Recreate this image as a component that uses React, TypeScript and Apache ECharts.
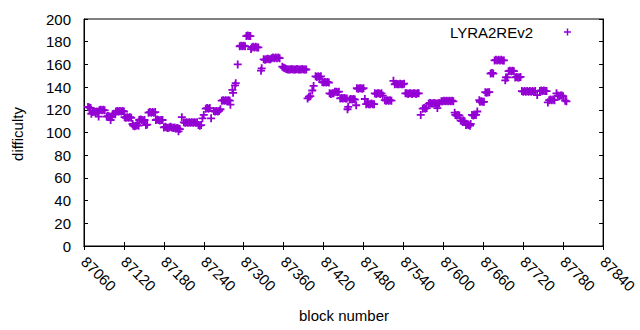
import React, { useEffect, useRef } from "react";
import * as echarts from "echarts";

// Tick settings
const xMin = 87060;
const xMax = 87840;
const xStep = 60;
const yMin = 0;
const yMax = 200;
const yStep = 20;
const seriesName = "LYRA2REv2";

// Segment 1: blocks 87066 - 87240
const blocksA = [
  87066, 87068, 87070, 87071, 87073, 87075, 87077, 87079, 87081, 87082,
  87083, 87085, 87087, 87089, 87091, 87094, 87096, 87098, 87100, 87102,
  87100, 87103, 87105, 87107, 87108, 87110, 87112, 87114, 87116, 87118,
  87120, 87121, 87123, 87125, 87127, 87129, 87131, 87133, 87134, 87136,
  87138, 87140, 87142, 87143, 87145, 87147, 87149, 87151, 87153, 87155,
  87157, 87159, 87161, 87163, 87165, 87167, 87168, 87170, 87172, 87174,
  87176, 87178, 87180, 87182, 87184, 87186, 87188, 87190, 87192, 87194,
  87196, 87198, 87200, 87202, 87204, 87202, 87207, 87210, 87212, 87214,
  87216, 87218, 87220, 87222, 87224, 87226, 87228, 87230, 87232, 87234,
  87236, 87238, 87240,
];
const diffA = [
  122.5, 122, 121.5, 116.5, 118, 118.5, 118, 118.5, 118, 114,
  119.5, 120, 119.5, 120, 119.5, 114, 114.5, 114, 113.5, 114,
  111, 116, 116.5, 116, 118.5, 119, 118.5, 119, 118.5, 119,
  118.5, 113.5, 113, 113.5, 113, 113.5, 113, 107.5, 106, 105.5,
  106, 106.5, 106, 111, 111.5, 111, 110.5, 111, 106.5, 107,
  117.5, 118, 117.5, 118, 117.5, 118, 111, 111.5, 111, 110.5,
  111, 111, 104.5, 105, 104.5, 104, 104.5, 105, 104.5, 104,
  104.5, 103.5, 104, 103.5, 103, 101, 113.5, 109, 108.5, 109,
  108.5, 109, 108.5, 109, 108.5, 109, 108.5, 109, 106.5, 106,
  106.5, 112.5, 115.5,
];

// Segment 2: blocks 87243 - 87416
const blocksB = [
  87243, 87245, 87247, 87249, 87251, 87255, 87257, 87259, 87261, 87263,
  87265, 87267, 87269, 87271, 87273, 87275, 87277, 87279, 87280, 87283,
  87284, 87287, 87288, 87291, 87294, 87296, 87298, 87300, 87302, 87304,
  87306, 87308, 87310, 87311, 87312, 87314, 87316, 87318, 87320, 87322,
  87326, 87327, 87330, 87332, 87334, 87336, 87338, 87340, 87342, 87344,
  87346, 87348, 87350, 87352, 87354, 87358, 87360, 87362, 87364, 87366,
  87368, 87370, 87372, 87374, 87376, 87378, 87380, 87382, 87384, 87386,
  87388, 87390, 87392, 87394, 87396, 87398, 87400, 87403, 87405, 87408,
  87410, 87412, 87414, 87416,
];
const diffB = [
  121, 121.5, 121, 121.5, 112.5, 119, 118.5, 119, 118.5, 119,
  120.5, 128, 128.5, 128, 128.5, 128, 128.5, 128, 124.5, 137.5,
  135, 141.5, 143.5, 160, 176, 176.5, 176, 176.5, 176, 185,
  185.5, 185, 185, 173.5, 175, 175.5, 175, 175.5, 175, 175,
  154.5, 156.5, 164.5, 164, 164.5, 165, 164.5, 164.5, 165.5, 166,
  165.5, 166, 165.5, 166, 165.5, 158, 157, 156.5, 156, 155.5,
  155.5, 155.5, 156, 155.5, 155.5, 155.5, 156, 155.5, 155.5, 155.5,
  156, 155.5, 155.5, 155.5, 130, 131.5, 132, 137, 141, 149.5,
  149, 149.5, 149, 149.5,
];

// Segment 3: blocks 87418 - 87615
const blocksC = [
  87418, 87420, 87422, 87424, 87426, 87428, 87429, 87431, 87433, 87435,
  87437, 87439, 87441, 87443, 87445, 87447, 87449, 87451, 87453, 87455,
  87456, 87457, 87459, 87461, 87463, 87465, 87467, 87469, 87470, 87472,
  87474, 87476, 87478, 87480, 87482, 87484, 87486, 87488, 87490, 87492,
  87494, 87496, 87497, 87499, 87501, 87503, 87505, 87507, 87509, 87512,
  87514, 87516, 87518, 87520, 87522, 87525, 87527, 87529, 87531, 87533,
  87535, 87537, 87539, 87541, 87543, 87545, 87547, 87549, 87551, 87553,
  87555, 87557, 87559, 87561, 87563, 87566, 87569, 87571, 87573, 87575,
  87578, 87580, 87582, 87584, 87586, 87588, 87590, 87591, 87592, 87594,
  87597, 87599, 87601, 87603, 87605, 87607, 87609, 87611, 87613, 87615,
];
const diffC = [
  144.5, 144, 144.5, 144, 144.5, 144, 134.5, 134, 134.5, 134.5,
  136, 136, 135.5, 136, 130, 130.5, 130, 130.5, 130, 130,
  120.5, 122.5, 129, 129.5, 129, 129.5, 129, 124, 139, 138.5,
  139, 139, 138.5, 139, 129.5, 125, 125.5, 125, 125, 125.5,
  125, 125, 134.5, 134, 134.5, 134.5, 134, 134.5, 132.5, 128.5,
  128, 128.5, 128, 128.5, 128, 145.5, 142.5, 143, 142.5, 142.5,
  143, 142.5, 142.5, 143, 134.5, 134.5, 134, 134.5, 134.5, 134,
  134.5, 134.5, 134, 134.5, 134.5, 115.5, 121, 121.5, 121, 121.5,
  125.5, 126, 125.5, 125.5, 126, 125.5, 125.5, 121.5, 125.5, 126,
  127.5, 127.5, 128, 127.5, 128, 127.5, 128, 127.5, 128, 127.5,
];

// Segment 4: blocks 87617 - 87785
const blocksD = [
  87617, 87618, 87620, 87622, 87624, 87626, 87628, 87630, 87632, 87634,
  87636, 87638, 87640, 87641, 87643, 87645, 87647, 87649, 87651, 87654,
  87655, 87657, 87659, 87661, 87663, 87665, 87667, 87669, 87671, 87673,
  87675, 87677, 87679, 87681, 87683, 87685, 87687, 87689, 87691, 87693,
  87694, 87696, 87698, 87700, 87702, 87704, 87706, 87708, 87710, 87712,
  87714, 87716, 87718, 87720, 87722, 87724, 87726, 87728, 87730, 87732,
  87734, 87736, 87738, 87741, 87745, 87747, 87749, 87751, 87753, 87755,
  87757, 87759, 87761, 87763, 87765, 87767, 87770, 87772, 87774, 87776,
  87778, 87780, 87783, 87785,
];
const diffD = [
  117.5, 115.5, 115, 115.5, 115, 110.5, 110, 110.5, 110, 106.5,
  107, 106.5, 106, 107.5, 115.5, 115, 115.5, 115.5, 118.5, 128.5,
  127, 127.5, 127, 127, 135.5, 135, 135.5, 135.5, 152, 152.5,
  152, 163.5, 164, 163.5, 164, 163.5, 164, 163.5, 163.5, 146,
  148.5, 148.5, 154, 154.5, 154, 154.5, 154, 148.5, 149, 148.5,
  148.5, 149, 136.5, 136, 136.5, 136, 136.5, 136, 136.5, 136,
  136.5, 136, 136.5, 133, 136.5, 137, 136.5, 137, 136.5, 136.5,
  126.5, 128.5, 129, 128.5, 129, 128.5, 134.5, 132.5, 132, 132.5,
  132.5, 132, 128, 127.5,
];

const COLOR = "#9400d3";
const FONT = "'Liberation Sans', Arial, sans-serif";
const FS = 15;

function pairs(bs: number[], ds: number[]): number[][] {
  return bs.map((b, i) => [b, ds[i]]);
}

export default function App() {
  const ref = useRef<HTMLDivElement>(null);
  useEffect(() => {
    document.body.style.margin = "0";
    const chart = echarts.init(ref.current!, null, { renderer: "svg" });
    const data = [
      ...pairs(blocksA, diffA),
      ...pairs(blocksB, diffB),
      ...pairs(blocksC, diffC),
      ...pairs(blocksD, diffD),
    ];
    const axisCommon = {
      type: "value" as const,
      axisLine: { show: true, lineStyle: { color: "#000", width: 1 } },
      axisTick: { show: true, inside: true, length: 4, lineStyle: { color: "#000", width: 1 } },
      splitLine: { show: false },
    };
    chart.setOption({
      animation: false,
      grid: { left: 84, right: 31, top: 19, bottom: 84, show: true, borderColor: "#000", borderWidth: 1 },
      xAxis: [
        {
          ...axisCommon,
          position: "bottom",
          min: xMin,
          max: xMax,
          interval: xStep,
          axisLabel: {
            rotate: -45,
            margin: 13,
            color: "#000",
            fontSize: FS,
            fontFamily: FONT,
            showMaxLabel: true,
            showMinLabel: true,
            formatter: (v: number) => String(v),
          },
        },
        {
          ...axisCommon,
          position: "top",
          min: xMin,
          max: xMax,
          interval: xStep,
          axisLabel: { show: false },
        },
      ],
      yAxis: [
        {
          ...axisCommon,
          position: "left",
          min: yMin,
          max: yMax,
          interval: yStep,
          axisLabel: { margin: 13, color: "#000", fontSize: FS, fontFamily: FONT },
        },
        {
          ...axisCommon,
          position: "right",
          min: yMin,
          max: yMax,
          interval: yStep,
          axisLabel: { show: false },
        },
      ],
      graphic: [
        {
          type: "text",
          x: 17,
          y: 134,
          rotation: Math.PI / 2,
          style: { text: "difficulty", fill: "#000", font: `${FS}px ${FONT}`, textAlign: "center", textVerticalAlign: "middle" },
        },
        {
          type: "text",
          x: 344,
          y: 315,
          style: { text: "block number", fill: "#000", font: `${FS}px ${FONT}`, textAlign: "center", textVerticalAlign: "middle" },
        },
        {
          type: "text",
          x: 533,
          y: 32,
          style: { text: seriesName, fill: "#000", font: `${FS}px ${FONT}`, textAlign: "right", textVerticalAlign: "middle" },
        },
        { type: "line", shape: { x1: 564, y1: 32, x2: 571, y2: 32 }, style: { stroke: COLOR, lineWidth: 1.5 } },
        { type: "line", shape: { x1: 567.5, y1: 28.5, x2: 567.5, y2: 35.5 }, style: { stroke: COLOR, lineWidth: 1.5 } },
      ],
      series: [
        {
          name: seriesName,
          type: "scatter",
          data,
          symbol: "path://M4,0L4,8M0,4L8,4",
          symbolSize: 8,
          itemStyle: { color: "transparent", borderColor: COLOR, borderWidth: 1.8, opacity: 1 },
          emphasis: { disabled: true },
        },
      ],
    });
    return () => chart.dispose();
  }, []);
  return <div ref={ref} style={{ width: 640, height: 330 }} />;
}
